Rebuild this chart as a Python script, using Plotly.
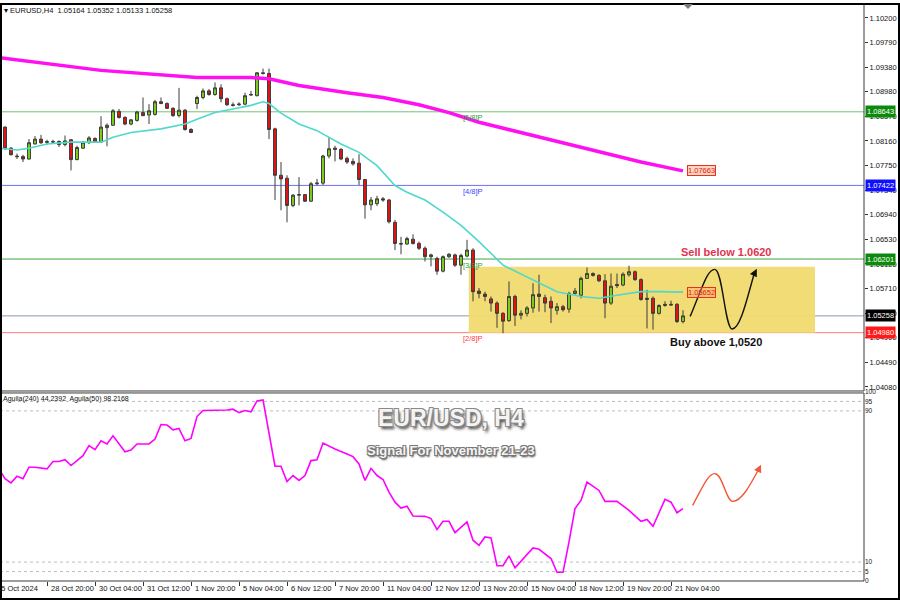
import plotly.graph_objects as go

# ---------------- data ----------------
OPEN = [1.0832, 1.0839, 1.0804, 1.0791, 1.0790, 1.0786, 1.0811, 1.0819, 1.0815, 1.0814,
        1.0815, 1.0810, 1.0818, 1.0785, 1.0804, 1.0813, 1.0820, 1.0814, 1.0838, 1.0842,
        1.0865, 1.0855, 1.0844, 1.0850, 1.0863, 1.0859, 1.0860, 1.0881, 1.0878, 1.0870,
        1.0858, 1.0867, 1.0835, 1.0878, 1.0888, 1.0899, 1.0893, 1.0904, 1.0886, 1.0876,
        1.0876, 1.0877, 1.0892, 1.0891, 1.0929, 1.0928, 1.0836, 1.0759, 1.0754, 1.0709,
        1.0726, 1.0727, 1.0716, 1.0745, 1.0746, 1.0791, 1.0804, 1.0802, 1.0787, 1.0782,
        1.0779, 1.0752, 1.0710, 1.0712, 1.0720, 1.0718, 1.0681, 1.0646, 1.0645, 1.0653,
        1.0646, 1.0638, 1.0624, 1.0621, 1.0600, 1.0624, 1.0627, 1.0610, 1.0625, 1.0635,
        1.0567, 1.0562, 1.0554, 1.0547, 1.0530, 1.0518, 1.0558, 1.0527, 1.0530, 1.0539,
        1.0562, 1.0556, 1.0550, 1.0535, 1.0541, 1.0537, 1.0563, 1.0560, 1.0588, 1.0596,
        1.0593, 1.0584, 1.0547, 1.0578, 1.0577, 1.0594, 1.0599, 1.0586, 1.0553, 1.0555,
        1.0530, 1.0543, 1.0545, 1.0545, 1.05164]
HIGH = [1.0842, 1.0840, 1.0806, 1.0795, 1.0793, 1.0819, 1.0824, 1.0826, 1.0818, 1.0818,
        1.0817, 1.0825, 1.0819, 1.0808, 1.0816, 1.0824, 1.0822, 1.0857, 1.0845, 1.0869,
        1.0869, 1.0857, 1.0852, 1.0866, 1.0888, 1.0877, 1.0884, 1.0888, 1.0880, 1.0872,
        1.0904, 1.0869, 1.0837, 1.0891, 1.0903, 1.0902, 1.0913, 1.0910, 1.0888, 1.0880,
        1.0880, 1.0896, 1.0899, 1.0930, 1.0936, 1.0936, 1.0838, 1.0781, 1.0759, 1.0728,
        1.0756, 1.0728, 1.0748, 1.0753, 1.0793, 1.0822, 1.0808, 1.0804, 1.0790, 1.0787,
        1.0794, 1.0753, 1.0723, 1.0725, 1.0723, 1.0720, 1.0685, 1.0657, 1.0657, 1.0661,
        1.0649, 1.0641, 1.0629, 1.0624, 1.0626, 1.0630, 1.0629, 1.0629, 1.0652, 1.0638,
        1.0572, 1.0566, 1.0558, 1.0550, 1.0532, 1.0583, 1.0561, 1.0535, 1.0542, 1.0580,
        1.0594, 1.0561, 1.0558, 1.0547, 1.0544, 1.0566, 1.0572, 1.0591, 1.0606, 1.0598,
        1.0595, 1.0595, 1.0596, 1.0596, 1.0598, 1.0609, 1.0601, 1.0588, 1.0569, 1.0558,
        1.0545, 1.0550, 1.0551, 1.0547, 1.05352]
LOW = [1.0829, 1.0801, 1.0792, 1.0786, 1.0781, 1.0785, 1.0810, 1.0811, 1.0810, 1.0811,
       1.0806, 1.0807, 1.0767, 1.0784, 1.0803, 1.0811, 1.0813, 1.0813, 1.0807, 1.0841,
       1.0853, 1.0842, 1.0842, 1.0848, 1.0857, 1.0844, 1.0858, 1.0877, 1.0869, 1.0856,
       1.0855, 1.0833, 1.0829, 1.0869, 1.0885, 1.0891, 1.0891, 1.0880, 1.0874, 1.0873,
       1.0874, 1.0875, 1.0891, 1.0890, 1.0926, 1.0819, 1.0718, 1.0701, 1.0681, 1.0706,
       1.0709, 1.0715, 1.0715, 1.0742, 1.0743, 1.0787, 1.0782, 1.0784, 1.0778, 1.0775,
       1.0743, 1.0687, 1.0701, 1.0708, 1.0715, 1.0679, 1.0635, 1.0628, 1.0644, 1.0644,
       1.0635, 1.0616, 1.0608, 1.0594, 1.0598, 1.0622, 1.0607, 1.0594, 1.0623, 1.0550,
       1.0555, 1.0550, 1.0533, 1.0506, 1.0497, 1.0516, 1.0509, 1.0520, 1.0525, 1.0531,
       1.0533, 1.0532, 1.0514, 1.0528, 1.0533, 1.0531, 1.0561, 1.0555, 1.0587, 1.0591,
       1.0582, 1.0522, 1.0544, 1.0572, 1.0575, 1.0591, 1.0584, 1.0551, 1.0505, 1.0503,
       1.0528, 1.0541, 1.0543, 1.0514, 1.05133]
CLOSE = [1.0839, 1.0803, 1.0793, 1.0790, 1.0786, 1.0813, 1.0819, 1.0813, 1.0814, 1.0815,
         1.0810, 1.0816, 1.0785, 1.0805, 1.0814, 1.0821, 1.0814, 1.0839, 1.0842, 1.0866,
         1.0855, 1.0844, 1.0851, 1.0864, 1.0858, 1.0866, 1.0881, 1.0878, 1.0870, 1.0858,
         1.0867, 1.0835, 1.0830, 1.0888, 1.0899, 1.0893, 1.0904, 1.0886, 1.0876, 1.0875,
         1.0877, 1.0891, 1.0893, 1.0929, 1.0928, 1.0835, 1.0759, 1.0753, 1.0709, 1.0726,
         1.0727, 1.0716, 1.0745, 1.0746, 1.0791, 1.0803, 1.0802, 1.0786, 1.0781, 1.0778,
         1.0752, 1.0710, 1.0718, 1.0720, 1.0718, 1.0682, 1.0646, 1.0645, 1.0654, 1.0646,
         1.0638, 1.0624, 1.0627, 1.0600, 1.0624, 1.0628, 1.0610, 1.0626, 1.0635, 1.0566,
         1.0563, 1.0558, 1.0547, 1.0530, 1.0517, 1.0558, 1.0527, 1.0530, 1.0539, 1.0561,
         1.0558, 1.0547, 1.0539, 1.0541, 1.0536, 1.0563, 1.0567, 1.0588, 1.0596, 1.0593,
         1.0584, 1.0547, 1.0575, 1.0576, 1.0595, 1.0599, 1.0586, 1.0553, 1.0555, 1.0530,
         1.0543, 1.0545, 1.0544, 1.05164, 1.05258]
BAR = list(range(len(OPEN)))  # H4 bar positions (25 Oct 12:00 ... 21 Nov 12:00)

MA_FAST_IDX = [0, 3, 5, 8, 12, 17, 19, 22, 27, 31, 33, 36, 39, 42, 44, 45, 47, 50, 53, 55,
               57, 60, 63, 66, 68, 71, 74, 77, 80, 84, 89, 93, 97, 100, 103, 107, 110, 114]
MA_FAST_VAL = [1.0804, 1.0801, 1.0804, 1.0811, 1.0814, 1.0814, 1.0822, 1.0830, 1.0836, 1.0844,
               1.0852, 1.0863, 1.0869, 1.0875, 1.0881, 1.0878, 1.0862, 1.0844, 1.0833, 1.0822,
               1.0811, 1.0797, 1.0775, 1.0742, 1.0731, 1.0718, 1.0698, 1.0676, 1.0649, 1.0610,
               1.0586, 1.0566, 1.0558, 1.0555, 1.0560, 1.0566, 1.0566, 1.05652]
MA_SLOW_IDX = [0, 17, 33, 42, 45, 50, 58, 64, 70, 75, 80, 87, 93, 100, 107, 114]
MA_SLOW_VAL = [1.0954, 1.0933, 1.0921, 1.0921, 1.0919, 1.0908, 1.0896, 1.0888, 1.0876, 1.0863,
               1.0847, 1.0830, 1.0814, 1.0797, 1.0781, 1.07663]

AGUILA_IDX = [0, 1, 2, 3, 4, 5, 6, 8, 9, 10, 11, 12, 14, 15, 16, 17, 18, 19, 21, 22,
              23, 25, 26, 27, 28, 29, 30, 31, 32, 33, 34, 37, 38, 39, 40, 41, 42, 43, 44, 46,
              47, 48, 49, 50, 51, 52, 53, 54, 56, 58, 59, 60, 61, 62, 63, 64, 65, 66, 67, 68,
              69, 71, 72, 73, 74, 75, 76, 78, 79, 80, 81, 82, 83, 84, 85, 86, 89, 90, 92, 93,
              94, 95, 96, 97, 98, 100, 101, 103, 105, 107, 108, 109, 110, 111, 112, 113, 114]
AGUILA_VAL = [59.3, 54.1, 51.9, 55.4, 54.1, 60.2, 60.2, 59.3, 63.2, 63.2, 64.2, 61.1, 66.3, 71.6,
              69.5, 74.2, 72.5, 76.8, 68.4, 69.3, 72.5, 72.5, 75.1, 82.8, 82.5, 80.0, 80.7, 74.2,
              75.4, 87.0, 90.2, 90.2, 90.5, 90.9, 89.1, 90.2, 89.5, 95.3, 95.8, 60.7, 60.7, 52.6,
              55.8, 53.2, 55.8, 63.7, 64.1, 73.0, 69.8, 67.2, 65.8, 61.9, 53.2, 59.6, 55.8, 53.7,
              47.0, 41.7, 38.6, 39.6, 34.4, 34.2, 33.0, 27.2, 31.6, 31.6, 25.6, 31.2, 21.6, 18.9,
              23.3, 22.8, 8.1, 8.1, 13.3, 7.0, 17.5, 16.8, 11.9, 4.6, 4.6, 20.7, 38.3, 42.6,
              52.3, 47.9, 42.1, 42.1, 37.4, 31.6, 32.6, 28.9, 35.6, 43.2, 41.7, 36.1, 38.3]

PRICE_TICKS = [1.10200, 1.09790, 1.09380, 1.08980, 1.08570, 1.08160, 1.07750, 1.07340,
               1.06940, 1.06530, 1.06120, 1.05710, 1.05300, 1.04900, 1.04490, 1.04080]
IND_TICKS = [0, 5, 10, 90, 95, 100]
IND_LEVELS = [95, 90, 10, 5]

TIME_TICK_IDX = [0, 8, 16, 24, 32, 40, 48, 56, 64, 72, 80, 88, 96, 104, 112]
TIME_LABELS = ["25 Oct 2024", "28 Oct 20:00", "30 Oct 04:00", "31 Oct 12:00", "1 Nov 20:00",
               "5 Nov 04:00", "6 Nov 12:00", "7 Nov 20:00", "11 Nov 04:00", "12 Nov 12:00",
               "13 Nov 20:00", "15 Nov 04:00", "18 Nov 12:00", "19 Nov 20:00", "21 Nov 04:00"]

LEVELS = [1.08643, 1.07422, 1.06201, 1.04980]
LEVEL_NAMES = ["[5/8]P", "[4/8]P", "[3/8]P", "[2/8]P"]
LAST_PRICE = 1.05258
ZONE_LOW, ZONE_HIGH = 1.0498, 1.06075
SELL_LEVEL_TEXT = "Sell below 1.0620"
BUY_LEVEL_TEXT = "Buy above 1,0520"

# ---------------- layout helpers ----------------
W, H = 900, 600
ML, MR, MT, MB = 0, 36, 1, 19
PW, PH = W - ML - MR, H - MT - MB


def px(x):
    return (x - ML) / PW


def py(y):
    return (H - MB - y) / PH


FONT = "Liberation Sans, Arial, sans-serif"
LEVEL_LINE = ["#74c174", "#6f6ff5", "#3aa83a", "#ff7b7b"]
LEVEL_TXT = ["#3a9a3a", "#4040ff", "#3a9a3a", "#ff3b3b"]
LEVEL_BOX = ["#0b8a0b", "#1010ff", "#0b8a0b", "#ff1a1a"]

fig = go.Figure()

fig.add_trace(go.Candlestick(
    x=BAR, open=OPEN, high=HIGH, low=LOW, close=CLOSE,
    xaxis="x", yaxis="y", whiskerwidth=0,
    increasing=dict(line=dict(color="#3c3c3c", width=1), fillcolor="#7ccf1e"),
    decreasing=dict(line=dict(color="#3c3c3c", width=1), fillcolor="#e41414"),
    hoverinfo="skip", showlegend=False))

fig.add_trace(go.Scatter(x=MA_SLOW_IDX, y=MA_SLOW_VAL, mode="lines", xaxis="x", yaxis="y",
                         line=dict(color="#ff10f0", width=3.5), hoverinfo="skip", showlegend=False))
fig.add_trace(go.Scatter(x=MA_FAST_IDX, y=MA_FAST_VAL, mode="lines", xaxis="x", yaxis="y",
                         line=dict(color="#4fd8cc", width=1.6), hoverinfo="skip", showlegend=False))
fig.add_trace(go.Scatter(x=AGUILA_IDX, y=AGUILA_VAL, mode="lines", xaxis="x2", yaxis="y2",
                         line=dict(color="#ff00ff", width=1.6), hoverinfo="skip", showlegend=False))

shapes = []
# trading zone
shapes.append(dict(type="rect", xref="x", yref="y", x0=78.3, x1=136, y0=ZONE_LOW, y1=ZONE_HIGH,
                   fillcolor="rgba(240,218,110,0.95)", line=dict(width=0), layer="below"))
for lv, c in zip(LEVELS, LEVEL_LINE):
    shapes.append(dict(type="line", xref="paper", yref="y", x0=0, x1=1, y0=lv, y1=lv,
                       line=dict(color=c, width=1), layer="below"))
shapes.append(dict(type="line", xref="paper", yref="y", x0=0, x1=1, y0=LAST_PRICE, y1=LAST_PRICE,
                   line=dict(color="#8c9aab", width=1), layer="below"))
for lv in IND_LEVELS:
    shapes.append(dict(type="line", xref="paper", yref="y2", x0=0, x1=1, y0=lv, y1=lv,
                       line=dict(color="#bdbdbd", width=1, dash="3px,3px"), layer="below"))
# panel frames
frame = "#3a3a3a"
shapes += [
    dict(type="line", xref="paper", yref="paper", x0=px(0), x1=px(864), y0=py(390), y1=py(390),
         line=dict(color=frame, width=1)),
    dict(type="line", xref="paper", yref="paper", x0=px(864), x1=px(864), y0=py(1), y1=py(390),
         line=dict(color=frame, width=1)),
    dict(type="line", xref="paper", yref="paper", x0=px(0), x1=px(864), y0=py(392), y1=py(392),
         line=dict(color=frame, width=1)),
    dict(type="line", xref="paper", yref="paper", x0=px(864), x1=px(864), y0=py(392), y1=py(581),
         line=dict(color=frame, width=1)),
    dict(type="line", xref="paper", yref="paper", x0=px(0), x1=px(864), y0=py(581), y1=py(581),
         line=dict(color=frame, width=1)),
    dict(type="rect", xref="paper", yref="paper", x0=px(1), x1=px(899), y0=py(599), y1=py(1),
         line=dict(color="#000000", width=2)),
    dict(type="path", xref="paper", yref="paper",
         path=f"M {px(683)},{py(1)} L {px(693)},{py(1)} L {px(688)},{py(6)} Z",
         fillcolor="#7a7a7a", line=dict(width=0)),
]
# hand-drawn scenario arrows
shapes.append(dict(type="path", xref="x", yref="y",
                   path="M 115.2,1.0525 C 117.2,1.0572 118.0,1.0603 119.3,1.0603 "
                        "C 120.6,1.0603 121.0,1.0504 122.2,1.0504 "
                        "C 123.6,1.0504 124.8,1.0560 125.9,1.0597",
                   line=dict(color="#111111", width=1.4)))
shapes.append(dict(type="path", xref="x2", yref="y2",
                   path="M 115.6,40 C 117.3,50 118.2,56.8 119.3,56.8 "
                        "C 120.6,56.8 121.2,42.1 122.3,42.1 "
                        "C 123.8,42.1 125.4,52 126.6,59",
                   line=dict(color="#f0583a", width=1.4)))

ann = []
small = dict(family=FONT, size=7.5, color="#111111")
ann.append(dict(xref="paper", yref="paper", x=px(2), y=py(8), xanchor="left", yanchor="middle",
                text="▾ EURUSD,H4  1.05164 1.05352 1.05133 1.05258", showarrow=False, font=small))
ann.append(dict(xref="paper", yref="paper", x=px(1), y=py(398), xanchor="left", yanchor="middle",
                text="Aguila(240) 44.2392  Aguila(50) 98.2168", showarrow=False,
                font=dict(family=FONT, size=7, color="#111111")))
for lv, nm, c in zip(LEVELS, LEVEL_NAMES, LEVEL_TXT):
    ann.append(dict(xref="paper", yref="y", x=px(461), y=lv, yshift=-6, xanchor="left",
                    yanchor="middle", text=nm, showarrow=False,
                    font=dict(family=FONT, size=7.5, color=c)))
for lv, c in zip(LEVELS + [LAST_PRICE], LEVEL_BOX + ["#000000"]):
    ann.append(dict(xref="paper", yref="y", x=1, y=lv, xanchor="left", yanchor="middle",
                    xshift=1, text=f"{lv:.5f}", showarrow=False, bgcolor=c, borderpad=1,
                    font=dict(family=FONT, size=7.5, color="#ffffff")))
for v in (MA_SLOW_VAL[-1], MA_FAST_VAL[-1]):
    ann.append(dict(xref="x", yref="y", x=114.7, y=v, xanchor="left", yanchor="middle",
                    text=f"{v:.5f}", showarrow=False, bgcolor="rgba(255,160,120,0.45)",
                    bordercolor="#e8331a", borderwidth=1, borderpad=0,
                    font=dict(family=FONT, size=7.5, color="#e01b10")))
ann.append(dict(xref="x", yref="y", x=121.3, y=1.06322, xanchor="center", yanchor="middle",
                text=SELL_LEVEL_TEXT, showarrow=False,
                font=dict(family=FONT, size=11, color="#e3334f", weight="bold")))
ann.append(dict(xref="x", yref="y", x=119.5, y=1.04821, xanchor="center", yanchor="middle",
                text=BUY_LEVEL_TEXT, showarrow=False,
                font=dict(family=FONT, size=11, color="#111111", weight="bold")))
shadow = ("-1px -1px 0 #8a8a8a, 1px -1px 0 #8a8a8a, -1px 1px 0 #8a8a8a, "
          "1px 1px 0 #8a8a8a, 2px 3px 3px #444")
ann.append(dict(xref="paper", yref="paper", x=px(451), y=py(417), xanchor="center",
                yanchor="middle", text="EUR/USD, H4", showarrow=False,
                font=dict(family=FONT, size=23, color="#f4f4f4", weight="bold", shadow=shadow)))
ann.append(dict(xref="paper", yref="paper", x=px(451), y=py(450), xanchor="center",
                yanchor="middle", text="Signal For November 21-23", showarrow=False,
                font=dict(family=FONT, size=13, color="#f4f4f4", weight="bold",
                          shadow="-1px -1px 0 #777, 1px -1px 0 #777, -1px 1px 0 #777, "
                                 "1px 1px 0 #777, 1px 2px 2px #333")))
# arrow heads
ann.append(dict(xref="x", yref="y", axref="x", ayref="y", x=126.3, y=1.0604, ax=125.7, ay=1.0592,
                text="", showarrow=True, arrowhead=2, arrowsize=1.1, arrowwidth=1.4,
                arrowcolor="#111111"))
ann.append(dict(xref="x2", yref="y2", axref="x2", ayref="y2", x=127.0, y=61.5, ax=126.4, ay=57.5,
                text="", showarrow=True, arrowhead=2, arrowsize=1.1, arrowwidth=1.4,
                arrowcolor="#f0583a"))
# time labels
for i, (ti, tl) in enumerate(zip(TIME_TICK_IDX, TIME_LABELS)):
    if i == 0:
        ann.append(dict(xref="paper", yref="paper", x=0, y=py(589), xshift=-5, xanchor="left",
                        yanchor="middle", text=tl, showarrow=False, font=small))
    else:
        ann.append(dict(xref="x2", yref="paper", x=ti, y=py(589), xshift=2, xanchor="left",
                        yanchor="middle", text=tl, showarrow=False, font=small))

fig.update_layout(
    width=W, height=H, margin=dict(l=ML, r=MR, t=MT, b=MB),
    paper_bgcolor="#ffffff", plot_bgcolor="#ffffff", showlegend=False,
    xaxis=dict(domain=[0, 1], range=[1 / 6, 865 / 6], anchor="y", showticklabels=False,
               showgrid=False, zeroline=False, showline=False, rangeslider=dict(visible=False)),
    xaxis2=dict(domain=[0, 1], matches="x", anchor="y2", showticklabels=False, showgrid=False,
                zeroline=False, showline=False, ticks="outside", ticklen=4, tickcolor="#333",
                tickvals=TIME_TICK_IDX),
    yaxis=dict(domain=[py(390), 1], range=[1.040125, 1.10431], side="right", anchor="x",
               tickvals=PRICE_TICKS, ticktext=[f"{t:.5f}" for t in PRICE_TICKS],
               ticks="outside", ticklen=3, tickcolor="#333", showgrid=False, zeroline=False,
               tickfont=dict(family=FONT, size=7.5, color="#111")),
    yaxis2=dict(domain=[0, py(391)], range=[0, 100], side="right", anchor="x2",
                tickvals=IND_TICKS, ticktext=[str(t) for t in IND_TICKS], ticks="",
                showgrid=False, zeroline=False,
                tickfont=dict(family=FONT, size=6.5, color="#111")),
    shapes=shapes, annotations=ann,
)

fig.write_html("out.html", config={"displayModeBar": False, "staticPlot": True},
               post_script="document.body.style.margin='0';document.body.style.padding='0';")
